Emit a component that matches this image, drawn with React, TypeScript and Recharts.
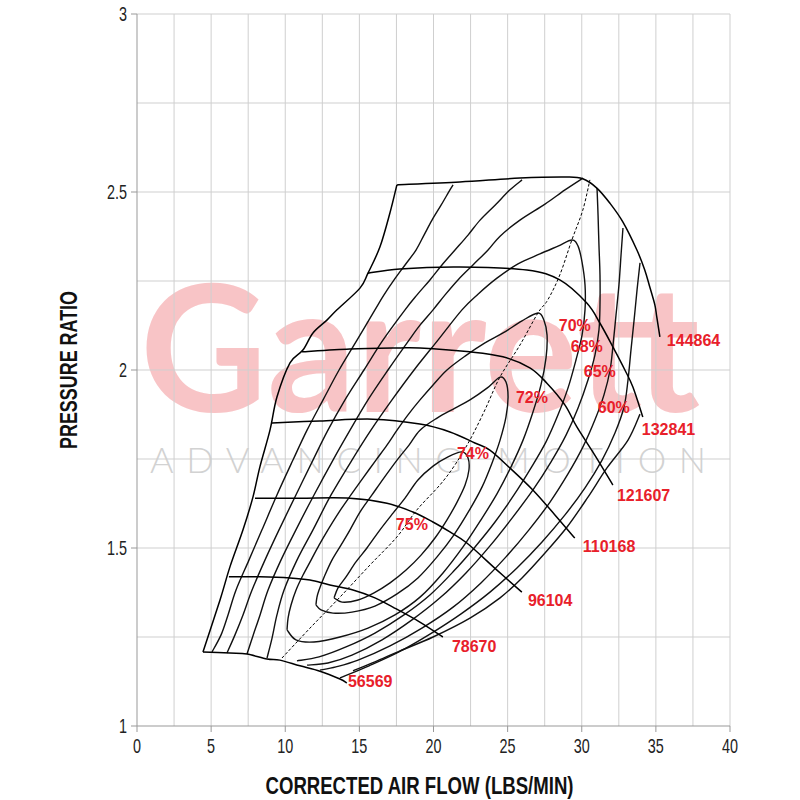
import React from 'react';
import { ComposedChart, Line, XAxis, YAxis, ReferenceLine, Scatter } from 'recharts';

// ---------- axis ticks / grid ----------
const xTicks = [0, 5, 10, 15, 20, 25, 30, 35, 40];
const yTicks = [1, 1.5, 2, 2.5, 3];
const xGrid = [2.5, 5, 7.5, 10, 12.5, 15, 17.5, 20, 22.5, 25, 27.5, 30, 32.5, 35, 37.5, 40];
const yGrid = [1.25, 1.5, 1.75, 2, 2.25, 2.5, 2.75, 3];

// ---------- surge line ----------
const surge = [
  { x: 4.45, y: 1.208 }, { x: 5.6, y: 1.354 }, { x: 6.27, y: 1.447 }, { x: 7.15, y: 1.551 },
  { x: 7.82, y: 1.643 }, { x: 8.29, y: 1.728 }, { x: 8.97, y: 1.831 }, { x: 9.44, y: 1.924 },
  { x: 10.32, y: 2.02 }, { x: 11.19, y: 2.056 }, { x: 11.87, y: 2.104 }, { x: 12.81, y: 2.14 },
  { x: 13.49, y: 2.169 }, { x: 15.04, y: 2.23 }, { x: 15.58, y: 2.272 }, { x: 16.39, y: 2.346 },
  { x: 17.06, y: 2.441 }, { x: 17.53, y: 2.52 },
];

// ---------- speed lines ----------
const speed144864 = [
  { x: 17.53, y: 2.52 }, { x: 21.78, y: 2.528 }, { x: 25.83, y: 2.539 }, { x: 29.0, y: 2.542 },
  { x: 30.07, y: 2.537 }, { x: 31.02, y: 2.511 }, { x: 31.89, y: 2.469 }, { x: 32.77, y: 2.416 },
  { x: 33.72, y: 2.337 }, { x: 34.25, y: 2.281 }, { x: 34.59, y: 2.233 }, { x: 34.93, y: 2.183 },
  { x: 35.06, y: 2.149 }, { x: 35.27, y: 2.093 },
];
const speed132841 = [
  { x: 15.58, y: 2.272 }, { x: 17.73, y: 2.284 }, { x: 21.78, y: 2.289 }, { x: 26.3, y: 2.281 },
  { x: 28.52, y: 2.253 }, { x: 30.34, y: 2.188 }, { x: 31.22, y: 2.132 }, { x: 32.1, y: 2.065 },
  { x: 32.91, y: 2.0 }, { x: 33.45, y: 1.952 }, { x: 34.12, y: 1.868 },
];
const speed121607 = [
  { x: 11.13, y: 2.051 }, { x: 14.36, y: 2.059 }, { x: 17.53, y: 2.062 }, { x: 19.08, y: 2.062 },
  { x: 22.45, y: 2.051 }, { x: 24.68, y: 2.037 }, { x: 26.5, y: 2.006 }, { x: 27.65, y: 1.963 },
  { x: 28.86, y: 1.902 }, { x: 29.67, y: 1.84 }, { x: 30.88, y: 1.761 }, { x: 32.1, y: 1.677 },
];
const speed110168 = [
  { x: 9.1, y: 1.851 }, { x: 12.34, y: 1.857 }, { x: 15.91, y: 1.862 }, { x: 19.08, y: 1.848 },
  { x: 21.11, y: 1.826 }, { x: 22.79, y: 1.795 }, { x: 23.8, y: 1.775 }, { x: 25.15, y: 1.725 },
  { x: 26.7, y: 1.663 }, { x: 28.19, y: 1.593 }, { x: 29.53, y: 1.528 },
];
const speed96104 = [
  { x: 7.96, y: 1.64 }, { x: 10.99, y: 1.64 }, { x: 14.36, y: 1.64 }, { x: 16.86, y: 1.626 },
  { x: 18.61, y: 1.601 }, { x: 19.96, y: 1.573 }, { x: 21.11, y: 1.545 }, { x: 22.25, y: 1.514 },
  { x: 24.28, y: 1.438 }, { x: 25.96, y: 1.376 },
];
const speed78670 = [
  { x: 6.2, y: 1.419 }, { x: 8.29, y: 1.419 }, { x: 10.32, y: 1.416 }, { x: 11.67, y: 1.41 },
  { x: 13.01, y: 1.396 }, { x: 14.57, y: 1.382 }, { x: 16.05, y: 1.36 }, { x: 17.26, y: 1.334 },
  { x: 19.08, y: 1.292 }, { x: 20.63, y: 1.25 },
];
const speed56569 = [
  { x: 4.45, y: 1.208 }, { x: 6.27, y: 1.205 }, { x: 7.42, y: 1.202 }, { x: 8.77, y: 1.188 },
  { x: 9.64, y: 1.185 }, { x: 10.99, y: 1.169 }, { x: 12.34, y: 1.154 }, { x: 13.69, y: 1.132 },
  { x: 14.16, y: 1.121 },
];

// ---------- efficiency islands ----------
const eff75 = [
  { x: 13.29, y: 1.36 }, { x: 13.56, y: 1.388 }, { x: 14.1, y: 1.419 }, { x: 14.77, y: 1.461 },
  { x: 15.51, y: 1.5 }, { x: 16.39, y: 1.551 }, { x: 17.27, y: 1.598 }, { x: 18.08, y: 1.64 },
  { x: 18.95, y: 1.691 }, { x: 19.97, y: 1.73 }, { x: 20.98, y: 1.756 }, { x: 21.92, y: 1.77 },
  { x: 22.33, y: 1.753 }, { x: 22.39, y: 1.719 }, { x: 22.13, y: 1.677 }, { x: 21.59, y: 1.629 },
  { x: 20.91, y: 1.579 }, { x: 20.1, y: 1.528 }, { x: 19.16, y: 1.48 }, { x: 18.15, y: 1.438 },
  { x: 17.07, y: 1.402 }, { x: 15.99, y: 1.374 }, { x: 14.91, y: 1.354 }, { x: 13.83, y: 1.348 },
  { x: 13.29, y: 1.36 },
];
const eff74 = [
  { x: 12.07, y: 1.34 }, { x: 12.14, y: 1.362 }, { x: 12.28, y: 1.382 }, { x: 12.68, y: 1.424 },
  { x: 13.15, y: 1.466 }, { x: 13.76, y: 1.508 }, { x: 14.37, y: 1.551 }, { x: 15.04, y: 1.601 },
  { x: 15.85, y: 1.649 }, { x: 16.66, y: 1.697 }, { x: 17.54, y: 1.747 }, { x: 18.35, y: 1.789 },
  { x: 19.09, y: 1.831 }, { x: 20.24, y: 1.865 }, { x: 21.45, y: 1.893 }, { x: 22.46, y: 1.916 },
  { x: 23.61, y: 1.949 }, { x: 24.49, y: 1.98 }, { x: 24.89, y: 1.966 }, { x: 25.03, y: 1.924 },
  { x: 24.89, y: 1.868 }, { x: 24.49, y: 1.803 }, { x: 23.95, y: 1.739 }, { x: 23.27, y: 1.671 },
  { x: 22.39, y: 1.604 }, { x: 21.38, y: 1.537 }, { x: 20.24, y: 1.475 }, { x: 18.95, y: 1.416 },
  { x: 17.54, y: 1.371 }, { x: 16.05, y: 1.337 }, { x: 14.5, y: 1.32 }, { x: 13.22, y: 1.317 },
  { x: 12.41, y: 1.326 }, { x: 12.07, y: 1.34 },
];
const eff72 = [
  { x: 10.12, y: 1.27 }, { x: 10.19, y: 1.303 }, { x: 10.39, y: 1.34 }, { x: 10.73, y: 1.382 },
  { x: 11.2, y: 1.424 }, { x: 11.74, y: 1.466 }, { x: 12.28, y: 1.508 }, { x: 12.88, y: 1.551 },
  { x: 13.63, y: 1.601 }, { x: 14.43, y: 1.649 }, { x: 15.25, y: 1.697 }, { x: 16.12, y: 1.747 },
  { x: 16.86, y: 1.789 }, { x: 17.54, y: 1.831 }, { x: 18.28, y: 1.874 }, { x: 19.09, y: 1.916 },
  { x: 19.97, y: 1.958 }, { x: 20.91, y: 2.0 }, { x: 22.13, y: 2.039 }, { x: 23.47, y: 2.076 },
  { x: 24.69, y: 2.104 }, { x: 25.97, y: 2.138 }, { x: 27.05, y: 2.16 }, { x: 27.45, y: 2.14 },
  { x: 27.66, y: 2.098 }, { x: 27.59, y: 2.034 }, { x: 27.25, y: 1.958 }, { x: 26.71, y: 1.882 },
  { x: 26.04, y: 1.803 }, { x: 25.23, y: 1.728 }, { x: 24.28, y: 1.652 }, { x: 23.2, y: 1.579 },
  { x: 21.99, y: 1.503 }, { x: 20.64, y: 1.43 }, { x: 19.09, y: 1.362 }, { x: 17.4, y: 1.312 },
  { x: 15.58, y: 1.275 }, { x: 13.69, y: 1.25 }, { x: 11.94, y: 1.236 }, { x: 10.72, y: 1.242 },
  { x: 10.12, y: 1.27 },
];
const eff70 = [
  { x: 8.77, y: 1.191 }, { x: 9.11, y: 1.247 }, { x: 9.44, y: 1.312 }, { x: 9.92, y: 1.382 },
  { x: 10.79, y: 1.466 }, { x: 11.87, y: 1.551 }, { x: 13.09, y: 1.649 }, { x: 14.5, y: 1.747 },
  { x: 15.78, y: 1.831 }, { x: 17.2, y: 1.916 }, { x: 18.69, y: 2.0 }, { x: 20.3, y: 2.084 },
  { x: 21.92, y: 2.169 }, { x: 23.0, y: 2.213 }, { x: 24.28, y: 2.258 }, { x: 25.7, y: 2.298 },
  { x: 27.18, y: 2.326 }, { x: 28.4, y: 2.348 }, { x: 29.34, y: 2.365 }, { x: 29.75, y: 2.348 },
  { x: 30.02, y: 2.303 }, { x: 30.22, y: 2.239 }, { x: 30.22, y: 2.169 }, { x: 30.02, y: 2.098 },
  { x: 29.61, y: 2.028 }, { x: 29.07, y: 1.949 }, { x: 28.4, y: 1.874 }, { x: 27.59, y: 1.798 },
  { x: 26.58, y: 1.725 }, { x: 25.43, y: 1.649 }, { x: 24.15, y: 1.573 }, { x: 22.8, y: 1.503 },
  { x: 21.32, y: 1.433 }, { x: 19.76, y: 1.368 }, { x: 18.01, y: 1.312 }, { x: 16.05, y: 1.261 },
  { x: 14.1, y: 1.222 }, { x: 12.28, y: 1.194 }, { x: 10.79, y: 1.183 },
];
const eff68Left = [
  { x: 7.42, y: 1.202 }, { x: 7.82, y: 1.253 }, { x: 8.3, y: 1.312 }, { x: 8.84, y: 1.382 },
  { x: 9.71, y: 1.466 }, { x: 10.72, y: 1.551 }, { x: 11.94, y: 1.649 }, { x: 13.22, y: 1.747 },
  { x: 14.37, y: 1.831 }, { x: 15.58, y: 1.916 }, { x: 16.93, y: 2.0 }, { x: 18.35, y: 2.084 },
  { x: 19.09, y: 2.126 }, { x: 19.97, y: 2.169 }, { x: 20.78, y: 2.211 }, { x: 21.65, y: 2.253 },
  { x: 22.66, y: 2.295 }, { x: 23.68, y: 2.337 }, { x: 24.49, y: 2.376 }, { x: 25.83, y: 2.421 },
  { x: 27.52, y: 2.466 }, { x: 28.87, y: 2.506 }, { x: 30.08, y: 2.539 },
];
const eff68Right = [
  { x: 31.03, y: 2.511 }, { x: 31.1, y: 2.435 }, { x: 31.16, y: 2.351 }, { x: 31.23, y: 2.267 },
  { x: 31.23, y: 2.183 }, { x: 31.16, y: 2.112 }, { x: 30.89, y: 2.042 }, { x: 30.42, y: 1.972 },
  { x: 29.75, y: 1.893 }, { x: 28.94, y: 1.817 }, { x: 27.93, y: 1.742 }, { x: 26.71, y: 1.663 },
  { x: 25.3, y: 1.584 }, { x: 23.81, y: 1.506 }, { x: 22.19, y: 1.43 }, { x: 20.44, y: 1.36 },
  { x: 18.55, y: 1.298 }, { x: 16.53, y: 1.242 }, { x: 14.5, y: 1.199 }, { x: 12.88, y: 1.177 },
  { x: 11.47, y: 1.171 },
];
const eff65Left = [
  { x: 6.07, y: 1.205 }, { x: 6.61, y: 1.256 }, { x: 7.15, y: 1.312 }, { x: 7.76, y: 1.382 },
  { x: 8.63, y: 1.466 }, { x: 9.58, y: 1.551 }, { x: 10.72, y: 1.649 }, { x: 11.87, y: 1.747 },
  { x: 12.88, y: 1.831 }, { x: 14.03, y: 1.916 }, { x: 15.31, y: 2.0 }, { x: 16.59, y: 2.084 },
  { x: 18.08, y: 2.169 }, { x: 18.89, y: 2.211 }, { x: 19.76, y: 2.253 }, { x: 20.57, y: 2.295 },
  { x: 21.45, y: 2.337 }, { x: 22.33, y: 2.379 }, { x: 23.14, y: 2.421 }, { x: 24.15, y: 2.463 },
  { x: 25.16, y: 2.506 }, { x: 25.97, y: 2.534 },
];
const eff65Right = [
  { x: 32.78, y: 2.399 }, { x: 32.65, y: 2.323 }, { x: 32.51, y: 2.239 }, { x: 32.31, y: 2.154 },
  { x: 32.11, y: 2.07 }, { x: 31.91, y: 2.0 }, { x: 31.5, y: 1.93 }, { x: 30.89, y: 1.86 },
  { x: 30.08, y: 1.784 }, { x: 29.07, y: 1.708 }, { x: 27.86, y: 1.629 }, { x: 26.44, y: 1.551 },
  { x: 24.89, y: 1.475 }, { x: 23.2, y: 1.402 }, { x: 21.32, y: 1.334 }, { x: 19.22, y: 1.275 },
  { x: 17.07, y: 1.225 }, { x: 14.91, y: 1.185 }, { x: 13.42, y: 1.166 }, { x: 12.34, y: 1.157 },
];
const eff60Left = [
  { x: 5.06, y: 1.208 }, { x: 5.67, y: 1.256 }, { x: 6.14, y: 1.312 }, { x: 6.68, y: 1.382 },
  { x: 7.55, y: 1.466 }, { x: 8.43, y: 1.551 }, { x: 9.44, y: 1.649 }, { x: 10.52, y: 1.747 },
  { x: 11.47, y: 1.831 }, { x: 12.55, y: 1.916 }, { x: 13.63, y: 2.0 }, { x: 14.84, y: 2.084 },
  { x: 16.05, y: 2.169 }, { x: 16.66, y: 2.211 }, { x: 17.34, y: 2.253 }, { x: 18.08, y: 2.295 },
  { x: 18.82, y: 2.337 }, { x: 19.36, y: 2.379 }, { x: 19.9, y: 2.421 }, { x: 20.51, y: 2.463 },
  { x: 21.11, y: 2.506 }, { x: 21.32, y: 2.52 },
];
const eff60Right = [
  { x: 33.93, y: 2.301 }, { x: 33.73, y: 2.225 }, { x: 33.53, y: 2.14 }, { x: 33.32, y: 2.056 },
  { x: 33.12, y: 1.972 }, { x: 32.85, y: 1.896 }, { x: 32.24, y: 1.823 }, { x: 31.37, y: 1.747 },
  { x: 30.22, y: 1.669 }, { x: 28.87, y: 1.593 }, { x: 27.32, y: 1.517 }, { x: 25.63, y: 1.444 },
  { x: 23.81, y: 1.376 }, { x: 21.86, y: 1.315 }, { x: 19.76, y: 1.258 }, { x: 17.67, y: 1.208 },
  { x: 15.65, y: 1.169 }, { x: 13.69, y: 1.135 },
];
const effOuter = [
  { x: 33.93, y: 1.876 }, { x: 33.12, y: 1.803 }, { x: 31.7, y: 1.725 }, { x: 30.42, y: 1.643 },
  { x: 29.01, y: 1.559 }, { x: 27.52, y: 1.486 }, { x: 25.97, y: 1.416 }, { x: 24.49, y: 1.36 },
  { x: 22.46, y: 1.303 }, { x: 19.97, y: 1.25 }, { x: 17.74, y: 1.211 }, { x: 16.05, y: 1.18 },
  { x: 14.57, y: 1.155 },
];

// ---------- peak efficiency (dashed) ----------
const peakLine = [
  { x: 9.78, y: 1.191 }, { x: 11.67, y: 1.275 }, { x: 13.69, y: 1.362 }, { x: 15.71, y: 1.452 },
  { x: 17.53, y: 1.531 }, { x: 18.88, y: 1.607 }, { x: 20.43, y: 1.677 }, { x: 21.44, y: 1.733 },
  { x: 22.45, y: 1.803 }, { x: 23.47, y: 1.888 }, { x: 24.48, y: 1.98 }, { x: 25.83, y: 2.07 },
  { x: 27.04, y: 2.16 }, { x: 27.71, y: 2.197 }, { x: 28.52, y: 2.267 }, { x: 29.33, y: 2.365 },
  { x: 30.07, y: 2.449 }, { x: 30.55, y: 2.534 },
];

// ---------- labels ----------
const speedLabels = [
  { x: 35.74, y: 2.084, t: '144864' },
  { x: 34.05, y: 1.834, t: '132841' },
  { x: 32.37, y: 1.649, t: '121607' },
  { x: 30.07, y: 1.506, t: '110168' },
  { x: 26.37, y: 1.354, t: '96104' },
  { x: 21.24, y: 1.225, t: '78670' },
  { x: 14.23, y: 1.126, t: '56569' },
];
const effLabels = [
  { x: 29.53, y: 2.126, t: '70%' },
  { x: 30.34, y: 2.067, t: '68%' },
  { x: 31.22, y: 1.997, t: '65%' },
  { x: 32.16, y: 1.896, t: '60%' },
  { x: 26.64, y: 1.924, t: '72%' },
  { x: 22.66, y: 1.767, t: '74%' },
  { x: 18.54, y: 1.567, t: '75%' },
];

const speedLines = [speed144864, speed132841, speed121607, speed110168, speed96104, speed78670, speed56569];
const effLines = [eff75, eff74, eff72, eff70, eff68Left, eff68Right, eff65Left, eff65Right, eff60Left, eff60Right, effOuter];

// Catmull-Rom curve factory (passes through every point)
const catmullRom = (context: any) => {
  let pts: number[][] = [];
  return {
    areaStart() {},
    areaEnd() {},
    lineStart() { pts = []; },
    point(x: number, y: number) { pts.push([x, y]); },
    lineEnd() {
      if (!pts.length) return;
      context.moveTo(pts[0][0], pts[0][1]);
      for (let i = 0; i < pts.length - 1; i++) {
        const p0 = pts[i - 1] || pts[i];
        const p1 = pts[i];
        const p2 = pts[i + 1];
        const p3 = pts[i + 2] || p2;
        context.bezierCurveTo(
          p1[0] + (p2[0] - p0[0]) / 6, p1[1] + (p2[1] - p0[1]) / 6,
          p2[0] - (p3[0] - p1[0]) / 6, p2[1] - (p3[1] - p1[1]) / 6,
          p2[0], p2[1]
        );
      }
    },
  };
};

const RED = '#e8202a';
const SANS = "'Liberation Sans', Arial, sans-serif";

const SpeedLabelShape = (p: any) => (
  <text x={p.cx} y={p.cy} dy="0.36em" textAnchor="start" fill={RED} fontFamily={SANS} fontWeight="bold" fontSize={16}>
    {p.payload.t}
  </text>
);
const EffLabelShape = (p: any) => (
  <text x={p.cx} y={p.cy} dy="0.36em" textAnchor="middle" fill={RED} fontFamily={SANS} fontWeight="bold" fontSize={16}>
    {p.payload.t}
  </text>
);

const XTick = (p: any) => {
  const x = p.x;
  const y = p.y + 15;
  return (
    <text x={x} y={y} textAnchor="middle" fill="#222" fontFamily={SANS} fontSize={20} transform={`translate(${x} ${y}) scale(0.72 1) translate(${-x} ${-y})`}>
      {p.payload.value}
    </text>
  );
};
const YTick = (p: any) => {
  const x = p.x;
  const y = p.y + 7;
  return (
    <text x={x} y={y} textAnchor="end" fill="#222" fontFamily={SANS} fontSize={20} transform={`translate(${x} ${y}) scale(0.72 1) translate(${-x} ${-y})`}>
      {p.payload.value}
    </text>
  );
};

const XTitle = (props: any) => {
  const vb = props.viewBox;
  return (
    <text x={vb.x + vb.width / 2 - 14} y={794} textAnchor="middle" fontFamily={SANS} fontWeight="bold" fontSize={24} fill="#111" textLength={308} lengthAdjust="spacingAndGlyphs">
      CORRECTED AIR FLOW (LBS/MIN)
    </text>
  );
};
const YTitle = (props: any) => {
  const vb = props.viewBox;
  const cx = 77;
  const cy = vb.y + vb.height / 2;
  return (
    <text x={cx} y={cy} transform={`rotate(-90 ${cx} ${cy})`} textAnchor="middle" fontFamily={SANS} fontWeight="bold" fontSize={24} fill="#111" textLength={158} lengthAdjust="spacingAndGlyphs">
      PRESSURE RATIO
    </text>
  );
};

export default function App() {
  return (
    <div style={{ position: 'fixed', left: 0, top: 0, width: 800, height: 800, overflow: 'hidden', background: '#fff' }}>
      <svg width={800} height={800} style={{ position: 'absolute', left: 0, top: 0 }}>
        <text x={140} y={412} fill="#f8c4c6" fontFamily="Lato, 'Open Sans', sans-serif" fontWeight={700} fontSize={176} textLength={560} lengthAdjust="spacingAndGlyphs">
          Garrett
        </text>
        <text x={150} y={473} fill="#d2d2d2" fontFamily="Lato, 'Open Sans', sans-serif" fontWeight={300} fontSize={36} textLength={556} lengthAdjust="spacing">
          ADVANCING MOTION
        </text>
      </svg>
      <div style={{ position: 'absolute', left: 0, top: 0 }}>
        <ComposedChart width={800} height={800} margin={{ top: 14, right: 70, bottom: 0, left: 0 }}>
          {xGrid.map((v) => (
            <ReferenceLine key={'gx' + v} x={v} stroke="#cfcfcf" strokeWidth={1} ifOverflow="visible" />
          ))}
          {yGrid.map((v) => (
            <ReferenceLine key={'gy' + v} y={v} stroke="#cfcfcf" strokeWidth={1} ifOverflow="visible" />
          ))}
          <XAxis
            dataKey="x"
            type="number"
            domain={[0, 40]}
            ticks={xTicks}
            allowDataOverflow
            height={74}
            tickSize={6}
            tickMargin={6}
            stroke="#999"
            tick={<XTick />}
            label={<XTitle />}
          />
          <YAxis
            dataKey="y"
            type="number"
            domain={[1, 3]}
            ticks={yTicks}
            allowDataOverflow
            width={137}
            tickSize={6}
            tickMargin={4}
            stroke="#999"
            tick={<YTick />}
            label={<YTitle />}
          />
          {effLines.map((s, i) => (
            <Line key={'e' + i} data={s} dataKey="y" type={catmullRom as any} stroke="#111" strokeWidth={1.4} dot={false} isAnimationActive={false} />
          ))}
          <Line data={surge} dataKey="y" type={catmullRom as any} stroke="#000" strokeWidth={1.5} dot={false} isAnimationActive={false} />
          {speedLines.map((s, i) => (
            <Line key={'s' + i} data={s} dataKey="y" type={catmullRom as any} stroke="#000" strokeWidth={1.5} dot={false} isAnimationActive={false} />
          ))}
          <Line data={peakLine} dataKey="y" type={catmullRom as any} stroke="#000" strokeWidth={1} strokeDasharray="3 2" dot={false} isAnimationActive={false} />
          <Scatter data={speedLabels} dataKey="y" shape={SpeedLabelShape} isAnimationActive={false} />
          <Scatter data={effLabels} dataKey="y" shape={EffLabelShape} isAnimationActive={false} />
        </ComposedChart>
      </div>
    </div>
  );
}
